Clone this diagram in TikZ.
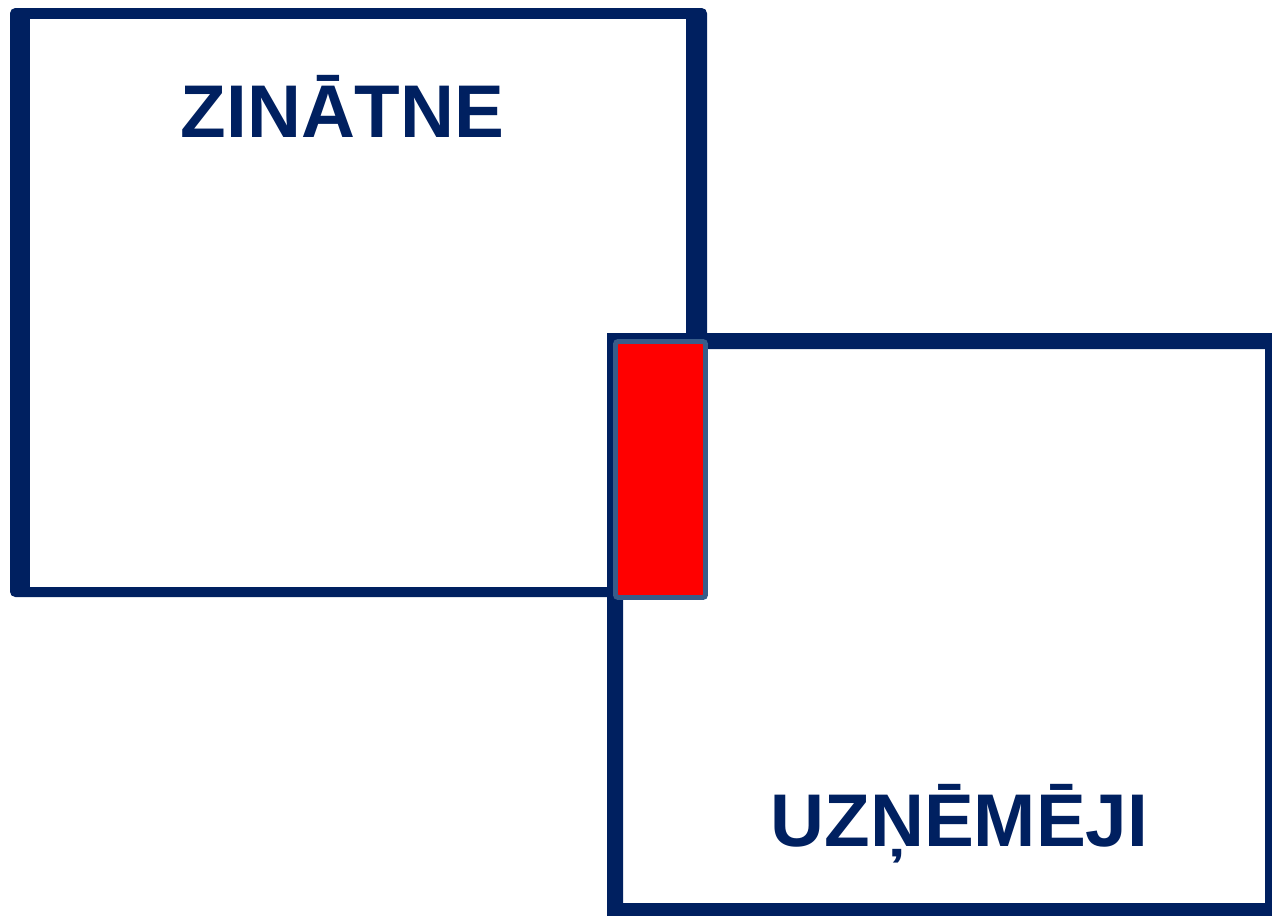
\documentclass[tikz,border=0pt]{standalone}
\usepackage{fontspec}
\setmainfont{Liberation Sans}
\usepackage{tikz}

\definecolor{navy}{HTML}{002060}
\definecolor{overlapred}{HTML}{FF0000}
\definecolor{overlapedge}{HTML}{385D8A}

\tikzset{
    fieldname/.style={anchor=base, text=navy, inner sep=0pt,
        font=\bfseries\fontsize{42.5}{50}\selectfont},
}

\begin{document}
\begin{tikzpicture}[x=0.02cm, y=-0.02cm]
    % Page frame
    \clip (0,0) rectangle (1272,916);
    \fill[white] (0,0) rectangle (1272,916);

    % Science box (top left)
    \fill[navy, rounded corners=3pt] (10,8) rectangle (707,597);
    \fill[white] (30,19) rectangle (686,587);

    % Business box (bottom right)
    \fill[navy, even odd rule] (607,333) rectangle (1281,919)
        (623,349) rectangle (1265,903);

    % Overlap of the two
    \draw[overlapedge, fill=overlapred, line width=2.8pt, rounded corners=1.5pt]
        (615.5,341.5) rectangle (705.5,597.5);

    % Labels
    \node[fieldname] (science) at (342.5,137) {ZINĀTNE};
    \node[fieldname] (business) at (959.5,846) {UZŅĒMĒJI};
\end{tikzpicture}
\end{document}
